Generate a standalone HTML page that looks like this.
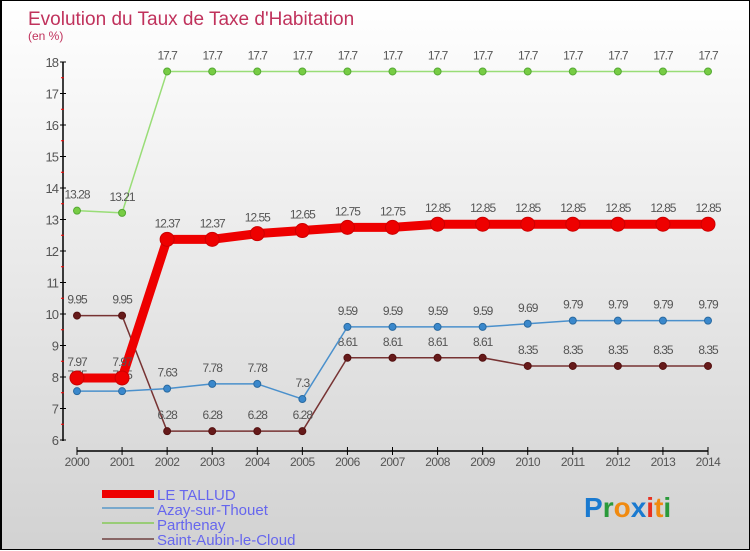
<!DOCTYPE html>
<html><head><meta charset="utf-8"><style>
html,body{margin:0;padding:0}
body{width:750px;height:550px;overflow:hidden;font-family:"Liberation Sans",sans-serif}
#wrap{position:relative;border:1px solid #000;border-left:2px solid #000;box-sizing:border-box;width:750px;height:550px;background:linear-gradient(#ffffff,#d2d2d2)}
</style></head><body>
<div id="wrap">
<svg id="chart" width="750" height="550" style="position:absolute;left:0;top:0">
<text x="26" y="24" font-size="19" fill="#c0325c">Evolution du Taux de Taxe d'Habitation</text>
<text x="26" y="39" font-size="12" fill="#c0325c">(en %)</text>
<g id="axes"></g><g id="series"></g>
<g>
<rect x="100" y="489" width="52" height="8" fill="#ee0000"/>
<text x="155" y="499" font-size="15" fill="#6666ee">LE TALLUD</text>
<rect x="100" y="506" width="52" height="2" fill="#78a8cc"/>
<text x="155" y="514" font-size="15" fill="#6666ee">Azay-sur-Thouet</text>
<rect x="100" y="521" width="52" height="2" fill="#99cc77"/>
<text x="155" y="529" font-size="15" fill="#6666ee">Parthenay</text>
<rect x="100" y="537" width="52" height="2" fill="#886666"/>
<text x="155" y="544" font-size="15" fill="#6666ee">Saint-Aubin-le-Cloud</text>
</g>
<g font-size="28" font-weight="bold" font-family="Liberation Sans,sans-serif">
<text x="582" y="516"><tspan fill="#1a7ad0">P</tspan><tspan fill="#2a9a3a">r</tspan><tspan fill="#f08a10">o</tspan><tspan fill="#1a7ad0">x</tspan><tspan fill="#e83020">i</tspan><tspan fill="#f08a10">t</tspan><tspan fill="#2a9a3a">i</tspan></text>
</g>
</svg>
</div>
<script>
const years=[2000,2001,2002,2003,2004,2005,2006,2007,2008,2009,2010,2011,2012,2013,2014];
const tallud=[7.97,7.97,12.37,12.37,12.55,12.65,12.75,12.75,12.85,12.85,12.85,12.85,12.85,12.85,12.85];
const azay=[7.55,7.55,7.63,7.78,7.78,7.3,9.59,9.59,9.59,9.59,9.69,9.79,9.79,9.79,9.79];
const parthenay=[13.28,13.21,17.7,17.7,17.7,17.7,17.7,17.7,17.7,17.7,17.7,17.7,17.7,17.7,17.7];
const aubin=[9.95,9.95,6.28,6.28,6.28,6.28,8.61,8.61,8.61,8.61,8.35,8.35,8.35,8.35,8.35];
const yTicks=[6,7,8,9,10,11,12,13,14,15,16,17,18];
const NS='http://www.w3.org/2000/svg';
const xs=i=>75+i*(706-75)/(years.length-1);
const ys=v=>439-(v-6)*(439-61)/12;
function mk(tag,attrs,parent){const e=document.createElementNS(NS,tag);for(const k in attrs)e.setAttribute(k,attrs[k]);parent.appendChild(e);return e;}
const axes=document.getElementById('axes');
const ya=mk('line',{x1:61,y1:61,x2:61,y2:440,stroke:'#000','stroke-width':1.5},axes);


const xa=mk('line',{x1:75,y1:450,x2:706,y2:450,stroke:'#000','stroke-width':1.5},axes);


yTicks.forEach(v=>{
  const y=ys(v);
  mk('line',{x1:58,y1:y,x2:64,y2:y,stroke:'#000'},axes);
  if(v<18)mk('line',{x1:59,y1:y-15.75,x2:62,y2:y-15.75,stroke:'#f00'},axes);
  const t=mk('text',{x:56,y:y+5,'font-size':13,fill:'#555','text-anchor':'end','letter-spacing':'-1'},axes);
  t.textContent=v;
  
  
});
years.forEach((yr,i)=>{
  const x=xs(i);
  mk('line',{x1:x,y1:450,x2:x,y2:454,stroke:'#000'},axes);
  mk('line',{x1:x,y1:446,x2:x,y2:450,stroke:'#000'},axes);
  const t=mk('text',{x:x,y:465,'font-size':12,fill:'#555','text-anchor':'middle','letter-spacing':'-0.5'},axes);
  t.textContent=yr;
  
  
});
const sg=document.getElementById('series');
function series(vals,color,w,r,name,dot,lab){
  const g=mk('g',{},sg);
  
  
  mk('polyline',{points:vals.map((v,i)=>xs(i)+','+ys(v)).join(' '),fill:'none',stroke:color,'stroke-width':w,'stroke-linejoin':'round'},g);
  vals.forEach((v,i)=>{
    const c=mk('circle',{cx:xs(i),cy:ys(v),r:r,fill:dot,stroke:lab,'stroke-width':1},g);
    
    
    const t=mk('text',{x:xs(i),y:ys(v)-12,'font-size':12,fill:'#555','text-anchor':'middle','letter-spacing':'-1'},g);
    t.textContent=v;
    
    
  });
}
series(parthenay,'#99dd77',1.5,3.5,'parthenay','#77cc44','#55aa33');
series(aubin,'#773333',1.5,3.5,'saint-aubin','#661a1a','#551111');
series(azay,'#4a90cc',1.5,3.5,'azay','#3a88cc','#2a6aa0');
series(tallud,'#ee0000',9,7,'le-tallud','#ee0000','#cc0000');
</script>
</body></html>
